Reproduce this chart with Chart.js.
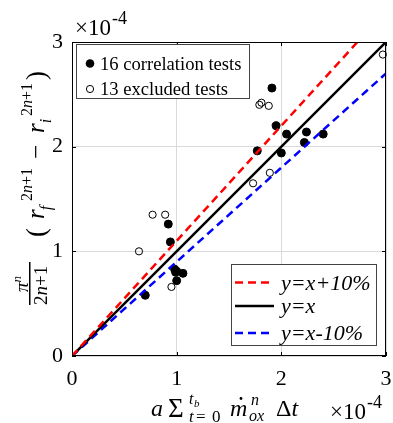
<!DOCTYPE html>
<html>
<head>
<meta charset="utf-8">
<script src="https://cdn.jsdelivr.net/npm/chart.js@4"></script>
<style>
  html, body { margin: 0; padding: 0; background: #fff; }
  #wrap { width: 393px; height: 423px; }
</style>
</head>
<body>
<div id="wrap"><canvas id="chart" width="393" height="423"></canvas></div>
<script>
// valores en unidades de 1e-4 (el eje muestra x10^-4)
const corrX = [1.91, 1.95, 2.05, 2.24, 2.22, 2.40, 1.77, 2.00, 0.92, 0.94, 0.98, 1.00, 1.06, 1.00, 0.99, 0.70];
const corrY = [2.56, 2.20, 2.12, 2.14, 2.04, 2.12, 1.96, 1.94, 1.26, 1.09, 0.83, 0.81, 0.79, 0.72, 0.80, 0.58];
const exclX = [2.97, 1.79, 1.81, 1.88, 1.89, 1.73, 0.77, 0.89, 0.64, 0.95];
const exclY = [2.88, 2.40, 2.42, 2.39, 1.75, 1.65, 1.35, 1.35, 1.00, 0.66];
// rectas de referencia
const refX = [0, 3];
const refY = [0, 3];
const plusY = [0, 3.3];
const minusY = [0, 2.7];
const ticks = [0, 1, 2, 3];

const SERIF = "'Liberation Serif', 'Times New Roman', serif";
const IT = 'italic ';
const pts = (xs, ys) => xs.map((x, i) => ({ x: x, y: ys[i] }));

// texto en una posicion con una fuente
function txt(ctx, t, x, y, font) {
    ctx.font = font;
    ctx.fillText(t, x, y);
    return x + ctx.measureText(t).width;
}

// tamaño fijo de los ejes, sin relleno extra por las etiquetas
function fixScale(s, size) {
    if (s.isHorizontal()) s.height = size; else s.width = size;
    s.paddingLeft = 0; s.paddingRight = 0; s.paddingTop = 0; s.paddingBottom = 0;
}

const decor = {
    id: 'decor',
    afterDraw(chart) {
        const { ctx, chartArea: a, scales } = chart;
        ctx.save();
        // marco y marcas hacia dentro
        ctx.strokeStyle = '#000';
        ctx.lineWidth = 1;
        ctx.strokeRect(a.left + 0.5, a.top + 0.5, a.right - a.left - 1, a.bottom - a.top - 1);
        ticks.forEach((v) => {
            const px = Math.round(scales.x.getPixelForValue(v)) + 0.5;
            const py = Math.round(scales.y.getPixelForValue(v)) + 0.5;
            ctx.beginPath();
            ctx.moveTo(px, a.bottom); ctx.lineTo(px, a.bottom - 4);
            ctx.moveTo(px, a.top); ctx.lineTo(px, a.top + 4);
            ctx.moveTo(a.left, py); ctx.lineTo(a.left + 4, py);
            ctx.moveTo(a.right, py); ctx.lineTo(a.right - 4, py);
            ctx.stroke();
        });

        ctx.textBaseline = 'alphabetic';
        ctx.textAlign = 'left';

        // leyenda 1
        ctx.fillStyle = '#fff';
        ctx.fillRect(76, 44, 173, 54);
        ctx.strokeStyle = '#444';
        ctx.strokeRect(76.5, 44.5, 173, 54);
        ctx.fillStyle = '#000';
        ctx.beginPath(); ctx.arc(90, 63.5, 4.3, 0, Math.PI * 2); ctx.fill();
        ctx.strokeStyle = '#000';
        ctx.beginPath(); ctx.arc(90, 89, 3.6, 0, Math.PI * 2); ctx.stroke();
        ctx.font = '18.6px ' + SERIF;
        ctx.fillText('16 correlation tests', 100, 69.5);
        ctx.fillText('13 excluded tests', 100, 95);

        // leyenda 2
        ctx.fillStyle = '#fff';
        ctx.fillRect(231, 264, 145, 81);
        ctx.strokeStyle = '#444';
        ctx.strokeRect(231.5, 264.5, 145, 81);
        const leg = [
            { c: '#ff0000', d: [8, 5], y: 282.5, t: 'y=x+10%' },
            { c: '#000000', d: [], y: 306, t: 'y=x' },
            { c: '#0000ff', d: [8, 5], y: 333, t: 'y=x-10%' },
        ];
        leg.forEach((l) => {
            ctx.strokeStyle = l.c;
            ctx.lineWidth = 2.5;
            ctx.setLineDash(l.d);
            ctx.beginPath(); ctx.moveTo(235, l.y); ctx.lineTo(274, l.y); ctx.stroke();
            ctx.setLineDash([]);
            ctx.fillStyle = '#000';
            ctx.font = IT + '22px ' + SERIF;
            ctx.fillText(l.t, 281, l.y + 7);
        });

        // x10^-4 arriba y abajo
        ctx.fillStyle = '#000';
        let e = txt(ctx, '\u00d710', 75, 35, '23px ' + SERIF);
        txt(ctx, '-4', e + 1, 24, '18px ' + SERIF);
        e = txt(ctx, '\u00d710', 330, 419, '23px ' + SERIF);
        txt(ctx, '-4', e + 1, 408, '18px ' + SERIF);

        // titulo eje x
        txt(ctx, 'a', 151, 416, IT + '24px ' + SERIF);
        txt(ctx, '\u03a3', 168, 417, '27px ' + SERIF);
        txt(ctx, 't', 189, 404, IT + '16px ' + SERIF);
        txt(ctx, 'b', 194, 407, IT + '11px ' + SERIF);
        txt(ctx, 't', 189, 422, IT + '17px ' + SERIF);
        txt(ctx, '=', 196, 422, '17px ' + SERIF);
        txt(ctx, '0', 212, 422, '17px ' + SERIF);
        e = txt(ctx, 'm', 230, 416, IT + '24px ' + SERIF);
        ctx.beginPath(); ctx.arc(241, 398.5, 1.4, 0, Math.PI * 2); ctx.fill();
        txt(ctx, 'n', 251, 405, IT + '16px ' + SERIF);
        txt(ctx, 'ox', 249, 421, IT + '16px ' + SERIF);
        e = txt(ctx, '\u0394', 276, 416, '24px ' + SERIF);
        txt(ctx, 't', e, 416, IT + '24px ' + SERIF);

        // titulo eje y (girado): x local = 179 - y pagina
        ctx.save();
        ctx.translate(44, 179);
        ctx.rotate(-Math.PI / 2);
        // fraccion pi^n / (2n+1)
        e = txt(ctx, '\u03c0', -113, -16, IT + '19px ' + SERIF);
        txt(ctx, 'n', e, -23, IT + '13px ' + SERIF);
        ctx.fillRect(-126, -15, 43, 1.5);
        e = txt(ctx, '2', -126, 3, '19px ' + SERIF);
        e = txt(ctx, 'n', e, 3, IT + '19px ' + SERIF);
        txt(ctx, '+1', e, 3, '19px ' + SERIF);
        // (r_f^{2n+1} - r_i^{2n+1})
        const sup = (x) => {
            let s = txt(ctx, '2', x, -12, '16px ' + SERIF);
            s = txt(ctx, 'n', s, -12, IT + '16px ' + SERIF);
            return txt(ctx, '+1', s, -12, '16px ' + SERIF);
        };
        txt(ctx, '(', -58, 1, '27px ' + SERIF);
        e = txt(ctx, 'r', -40, 0, IT + '25px ' + SERIF);
        txt(ctx, 'f', e - 1, 7, IT + '16px ' + SERIF);
        sup(-22);
        txt(ctx, '\u2212', 20, 0, '25px ' + SERIF);
        e = txt(ctx, 'r', 46, 0, IT + '25px ' + SERIF);
        txt(ctx, 'i', e, 7, IT + '16px ' + SERIF);
        sup(63);
        txt(ctx, ')', 99, 1, '27px ' + SERIF);
        ctx.restore();

        ctx.restore();
    },
};

const ctx = document.getElementById('chart');
const chart = new Chart(ctx, {
    type: 'scatter',
    data: {
        datasets: [
            {
                type: 'line', data: pts(refX, plusY), borderColor: '#ff0000', borderWidth: 2.5,
                borderDash: [8, 5], pointRadius: 0, fill: false, clip: 0,
            },
            {
                type: 'line', data: pts(refX, refY), borderColor: '#000000', borderWidth: 2.5,
                pointRadius: 0, fill: false, clip: 0,
            },
            {
                type: 'line', data: pts(refX, minusY), borderColor: '#0000ff', borderWidth: 2.5,
                borderDash: [8, 5], pointRadius: 0, fill: false, clip: 0,
            },
            {
                label: '13 excluded tests', data: pts(exclX, exclY), pointRadius: 3.6,
                backgroundColor: 'rgba(0,0,0,0)', borderColor: '#000', borderWidth: 1, clip: false,
            },
            {
                label: '16 correlation tests', data: pts(corrX, corrY), pointRadius: 4,
                backgroundColor: '#000', borderColor: '#000', borderWidth: 1,
            },
        ],
    },
    options: {
        responsive: false,
        animation: false,
        events: [],
        layout: { padding: { top: 42, right: 7, left: 0, bottom: 0 } },
        plugins: { legend: { display: false }, tooltip: { enabled: false } },
        scales: {
            x: {
                type: 'linear', min: 0, max: 3,
                afterFit: (s) => fixScale(s, 67),
                afterBuildTicks: (s) => { s.ticks = ticks.map((v) => ({ value: v })); },
                grid: { color: '#d9d9d9', lineWidth: 1, drawTicks: false },
                border: { display: false },
                ticks: { padding: 10, color: '#000', font: { family: SERIF, size: 22 }, maxRotation: 0 },
            },
            y: {
                type: 'linear', min: 0, max: 3,
                afterFit: (s) => fixScale(s, 72),
                afterBuildTicks: (s) => { s.ticks = ticks.map((v) => ({ value: v })); },
                grid: { color: '#d9d9d9', lineWidth: 1, drawTicks: false },
                border: { display: false },
                ticks: { padding: 9, color: '#000', font: { family: SERIF, size: 22 } },
            },
        },
    },
    plugins: [decor],
});
</script>
</body>
</html>
